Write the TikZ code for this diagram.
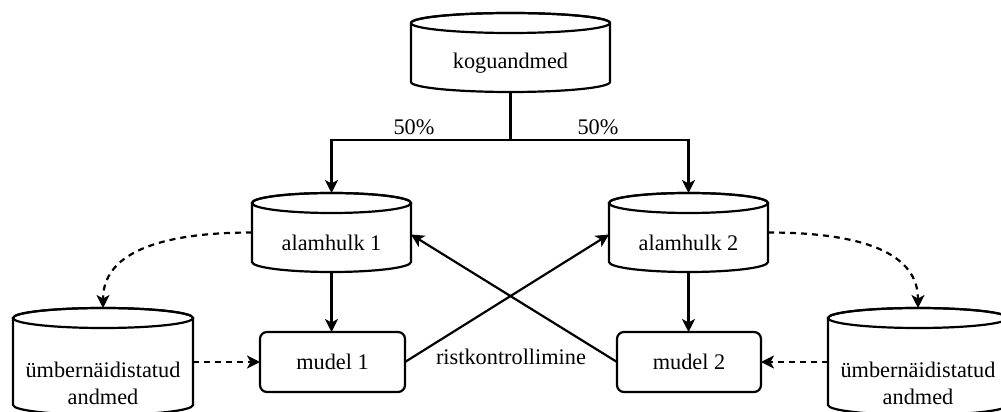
\documentclass[tikz,border=0pt]{standalone}
\usepackage{fontspec}
\setmainfont{Liberation Serif}
\usetikzlibrary{arrows.meta,calc}
\tikzset{
  lw/.style={line width=2.2pt},
  cylbox/.style={rectangle,inner sep=0pt,outer sep=0pt},
  lbl/.style={inner sep=0pt,font=\fontsize{22.3}{27}\selectfont,align=center},
  modelbox/.style={lw,draw,fill=white,rounded corners=7pt,minimum width=145pt,minimum height=60pt,inner sep=0pt,outer sep=0pt,font=\fontsize{22.3}{27}\selectfont},
  conn/.style={lw,-{Stealth[length=13pt,width=13pt,inset=3.5pt]}},
  dconn/.style={conn,dash pattern=on 6pt off 5pt}
}
\newcommand\drawcyl[1]{%
  \draw[lw,fill=white] let \p1=(#1.north west), \p2=(#1.south east) in
    (\x1,\y1-10pt) -- (\x1,\y2+10pt)
    arc[start angle=180,end angle=360,x radius={(\x2-\x1)/2},y radius=10pt]
    -- (\x2,\y1-10pt)
    arc[start angle=0,end angle=180,x radius={(\x2-\x1)/2},y radius=10pt] -- cycle;
  \draw[lw] let \p1=(#1.north west), \p2=(#1.south east) in
    ({(\x1+\x2)/2},\y1-10pt) ellipse[x radius={(\x2-\x1)/2},y radius=10pt];
}
\begin{document}
\begin{tikzpicture}[x=1pt,y=1pt]
\useasboundingbox (0,0) rectangle (1001,412);
% cylinder frames
\node[cylbox,minimum width=199pt,minimum height=79pt] (kog) at (510.5,359.5) {};
\node[cylbox,minimum width=159pt,minimum height=79pt] (a1) at (331.5,179.5) {};
\node[cylbox,minimum width=159pt,minimum height=79pt] (a2) at (688.5,179.5) {};
\node[cylbox,minimum width=180pt,minimum height=107pt] (lc) at (103,50.5) {};
\node[cylbox,minimum width=180pt,minimum height=107pt] (rc) at (918,50.5) {};
\drawcyl{kog}
\drawcyl{a1}
\drawcyl{a2}
\drawcyl{lc}
\drawcyl{rc}
% texts
\node[lbl] (kogt) at ($(kog.center)+(0,-11)$) {koguandmed};
\node[lbl] (a1t) at ($(a1.center)+(0,-10.5)$) {alamhulk 1};
\node[lbl] (a2t) at ($(a2.center)+(0,-10.5)$) {alamhulk 2};
\node[lbl] (lct) at (103,29) {ümbernäidistatud\\andmed};
\node[lbl] (rct) at (918,29) {ümbernäidistatud\\andmed};
% models
\node[modelbox] (m1) at (332.5,50) {mudel 1};
\node[modelbox,minimum width=144pt] (m2) at (689,50) {mudel 2};
% split
\coordinate (split) at (510.5,272);
\draw[lw] (kog.south) -- (split);
\draw[conn] (split) -| (a1.north);
\draw[conn] (split) -| (a2.north);
\node[lbl] (p1) at (414,285) {50\%};
\node[lbl] (p2) at (598,285) {50\%};
% subsets to models
\draw[conn] (a1.south) -- (m1.north -| a1.south);
\draw[conn] (a2.south) -- (m2.north -| a2.south);
% oversampling
\draw[dconn] (a1.west) to[out=180,in=90] (lc.north);
\draw[dconn] (a2.east) to[out=0,in=90] (rc.north);
\draw[dconn] (lc.east |- m1.west) -- (m1.west);
\draw[dconn] (rc.west |- m2.east) -- (m2.east);
% cross validation
\draw[conn] (m1.east) -- ($(a2.west)+(0,-2)$);
\draw[conn] (m2.west) -- ($(a1.east)+(0,-2)$);
\node[lbl] (rk) at (511,55) {ristkontrollimine};
\end{tikzpicture}
\end{document}
